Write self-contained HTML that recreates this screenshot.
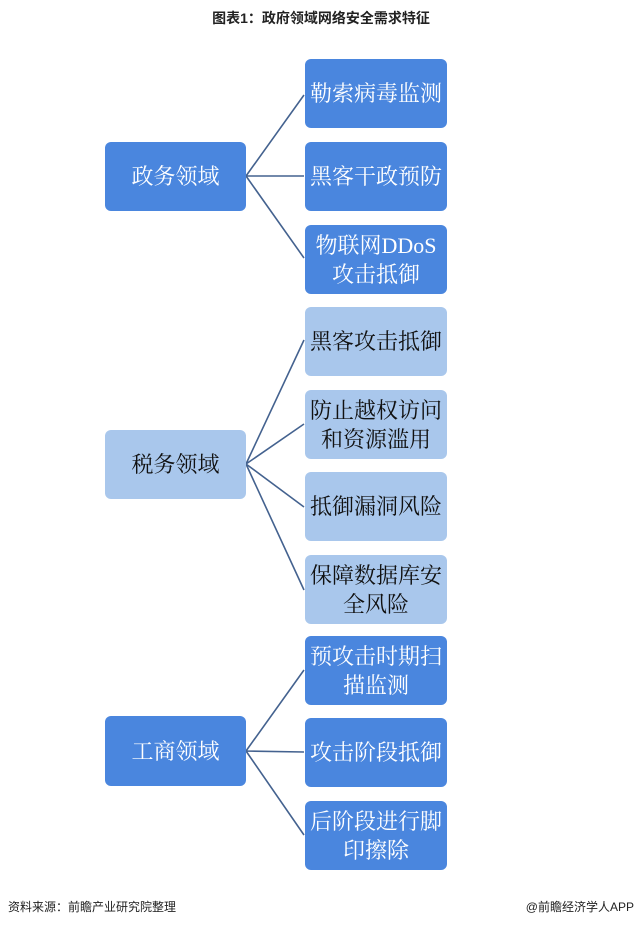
<!DOCTYPE html>
<html><head><meta charset="utf-8"><style>
body{margin:0;width:642px;height:928px;background:#fff;position:relative;overflow:hidden;font-family:"Liberation Sans","Noto Sans CJK SC",sans-serif}
.b{position:absolute;border-radius:6px;display:flex;align-items:center;justify-content:center;text-align:center;font-family:"Liberation Serif","Noto Serif CJK SC",serif;font-size:22px;line-height:29px;color:#fff;background:#4a86de}
.l{background:#a9c7ec;color:#111}
.t{position:absolute;top:8px;left:0;width:642px;text-align:center;font-weight:bold;font-size:14px;color:#222}
.f{position:absolute;top:898px;font-size:12px;color:#222}
</style></head><body>
<div class="t">图表1：政府领域网络安全需求特征</div>
<svg width="642" height="928" style="position:absolute;left:0;top:0" stroke="#44628f" stroke-width="1.6" fill="none">
<path d="M246 176 L304 95 M246 176 L304 176 M246 176 L304 258"/>
<path d="M246 464 L304 340 M246 464 L304 424 M246 464 L304 507 M246 464 L304 590"/>
<path d="M246 751 L304 670 M246 751 L304 752 M246 751 L304 835"/>
</svg>
<div class="b" style="left:105px;top:142px;width:141px;height:69px">政务领域</div>
<div class="b" style="left:305px;top:59px;width:142px;height:69px">勒索病毒监测</div>
<div class="b" style="left:305px;top:142px;width:142px;height:69px">黑客干政预防</div>
<div class="b" style="left:305px;top:225px;width:142px;height:69px">物联网DDoS<br>攻击抵御</div>
<div class="b l" style="left:105px;top:430px;width:141px;height:69px">税务领域</div>
<div class="b l" style="left:305px;top:307px;width:142px;height:69px">黑客攻击抵御</div>
<div class="b l" style="left:305px;top:390px;width:142px;height:69px">防止越权访问<br>和资源滥用</div>
<div class="b l" style="left:305px;top:472px;width:142px;height:69px">抵御漏洞风险</div>
<div class="b l" style="left:305px;top:555px;width:142px;height:69px">保障数据库安<br>全风险</div>
<div class="b" style="left:105px;top:716px;width:141px;height:70px">工商领域</div>
<div class="b" style="left:305px;top:636px;width:142px;height:69px">预攻击时期扫<br>描监测</div>
<div class="b" style="left:305px;top:718px;width:142px;height:69px">攻击阶段抵御</div>
<div class="b" style="left:305px;top:801px;width:142px;height:69px">后阶段进行脚<br>印擦除</div>
<div class="f" style="left:8px">资料来源：前瞻产业研究院整理</div>
<div class="f" style="right:8px">@前瞻经济学人APP</div>
</body></html>
